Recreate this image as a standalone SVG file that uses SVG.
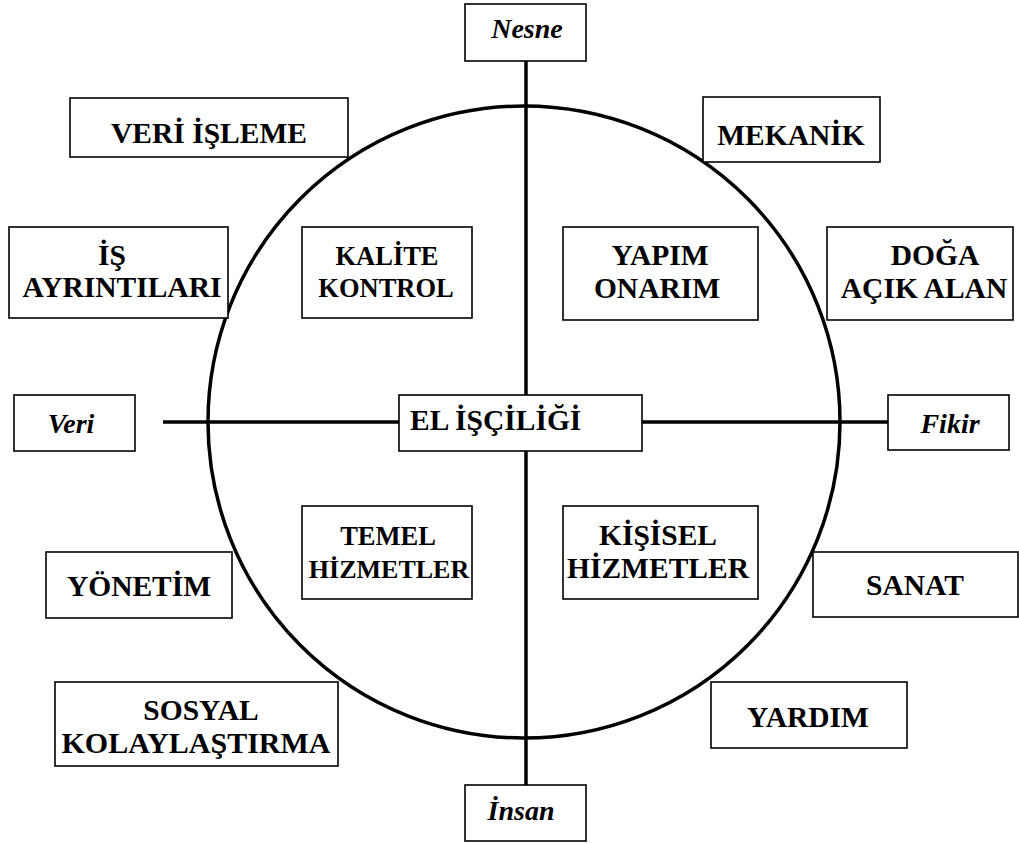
<svg xmlns="http://www.w3.org/2000/svg" width="1019" height="843" viewBox="0 0 1019 843">
<style>
.box{fill:#fff;stroke:#000;stroke-width:1.6}
.t{font-weight:bold;font-size:29.5px;fill:#000;text-anchor:middle}
.s{font-size:26.5px}
.i{font-style:italic;font-size:28px}
.ln{stroke:#000;stroke-width:3.5;fill:none}
</style>
<rect width="1019" height="843" fill="#fff"/>
<g id="connectors">
<circle cx="524" cy="422" r="316" class="ln" stroke-width="3"/>
<line x1="526" y1="61" x2="526" y2="395" class="ln"/>
<line x1="526" y1="451" x2="526" y2="785" class="ln"/>
<line x1="163" y1="422" x2="399" y2="422" class="ln"/>
<line x1="642" y1="422" x2="888" y2="422" class="ln"/>
</g>
<g font-family="Liberation Serif, Times New Roman, DejaVu Serif, serif">
<g id="nesne"><rect x="465" y="4" width="121" height="57" class="box"/><text x="527" y="38" class="t i">Nesne</text></g>
<g id="insan"><rect x="465" y="785" width="121" height="56" class="box"/><text x="521" y="820" class="t i">İnsan</text></g>
<g id="veri"><rect x="14" y="395" width="121" height="56" class="box"/><text x="71" y="433" class="t i">Veri</text></g>
<g id="fikir"><rect x="888" y="395" width="121" height="55" class="box"/><text x="950" y="433" class="t i">Fikir</text></g>
<g id="el-isciligi"><rect x="399" y="395" width="243" height="56" class="box"/><text x="410" y="430" class="t" style="text-anchor:start">EL İŞÇİLİĞİ</text></g>
<g id="veri-isleme"><rect x="70" y="98" width="278" height="59" class="box"/><text x="209" y="143" class="t">VERİ İŞLEME</text></g>
<g id="mekanik"><rect x="703" y="97" width="177" height="65" class="box"/><text x="791" y="145" class="t">MEKANİK</text></g>
<g id="is-ayrintilari"><rect x="9" y="227" width="219" height="91" class="box"/><text x="112" y="265" class="t">İŞ</text><text x="122" y="297" class="t">AYRINTILARI</text></g>
<g id="kalite-kontrol"><rect x="302" y="227" width="170" height="91" class="box"/><text x="387" y="265" class="t s">KALİTE</text><text x="386" y="297" class="t s">KONTROL</text></g>
<g id="yapim-onarim"><rect x="563" y="227" width="195" height="93" class="box"/><text x="660" y="265" class="t">YAPIM</text><text x="657" y="298" class="t">ONARIM</text></g>
<g id="doga-acik-alan"><rect x="827" y="227" width="186" height="93" class="box"/><text x="935" y="265" class="t">DOĞA</text><text x="924" y="298" class="t">AÇIK ALAN</text></g>
<g id="temel-hizmetler"><rect x="302" y="506" width="170" height="93" class="box"/><text x="388" y="545" class="t s">TEMEL</text><text x="389" y="578" class="t" style="font-size:26px">HİZMETLER</text></g>
<g id="kisisel-hizmetler"><rect x="563" y="506" width="195" height="93" class="box"/><text x="658" y="545" class="t">KİŞİSEL</text><text x="658" y="578" class="t">HİZMETLER</text></g>
<g id="yonetim"><rect x="46" y="552" width="186" height="66" class="box"/><text x="139" y="596" class="t">YÖNETİM</text></g>
<g id="sanat"><rect x="813" y="552" width="205" height="65" class="box"/><text x="915" y="595" class="t">SANAT</text></g>
<g id="sosyal-kolaylastirma"><rect x="55" y="682" width="283" height="84" class="box"/><text x="201" y="720" class="t">SOSYAL</text><text x="196" y="753" class="t" style="font-size:30px">KOLAYLAŞTIRMA</text></g>
<g id="yardim"><rect x="711" y="682" width="196" height="66" class="box"/><text x="808" y="727" class="t">YARDIM</text></g>
</g>
</svg>
